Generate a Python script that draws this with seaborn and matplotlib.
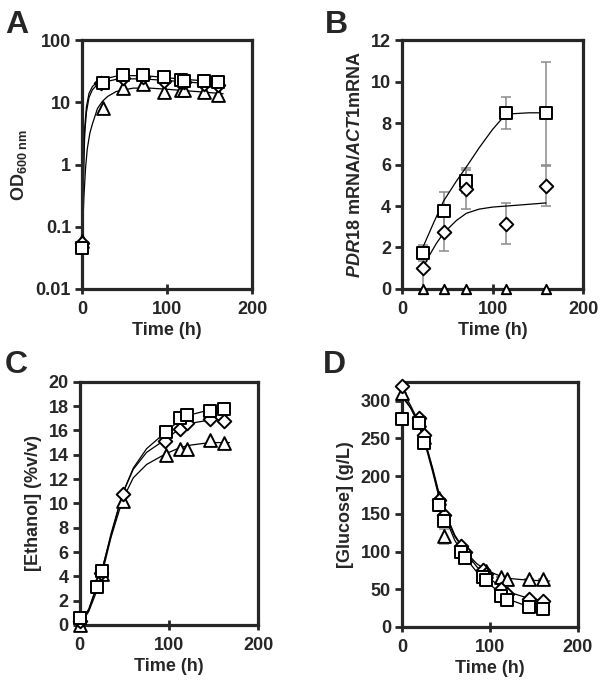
import matplotlib
matplotlib.use("Agg")
import matplotlib.pyplot as plt
import matplotlib.ticker as mticker
import seaborn as sns

# ---------------------------------------------------------------------------
# Data (square / diamond / triangle strains)
# ---------------------------------------------------------------------------
# A: growth, OD600 (log)
od_t_sq = [0, 24, 48, 72, 96, 116, 120, 144, 160]
od_sq = [0.046, 20.5, 27.4, 27.4, 25.5, 23, 22, 22, 21]
od_t_di = [0, 22, 48, 72, 96, 116, 120, 144, 160]
od_di = [0.055, 20.5, 24.5, 25.5, 22.5, 21.5, 21, 19.5, 19]
od_t_tr = [0, 24, 48, 72, 96, 116, 120, 144, 160]
od_tr = [0.06, 8.2, 16.8, 19.5, 15, 15.8, 15.8, 14.8, 13.4]
# fitted curves in A
odc_t = [0, 1, 2, 3, 5, 8, 12, 18, 24, 40, 60, 80, 100, 120, 140, 166]
odc_sq = [0.05, 0.3, 1.5, 4, 8.5, 14, 18, 21.5, 23.5, 26.5, 27, 26.5, 25, 23.5, 22.5, 21.5]
odc_di = [0.05, 0.25, 1.2, 3.2, 7, 12, 16, 19.5, 21, 23.5, 24, 23.5, 22.5, 21.5, 20.5, 19]
odc_t_tr = [0, 2, 4, 6, 9, 12, 18, 24, 30, 40, 60, 80, 100, 120, 140, 166]
odc_tr = [0.06, 0.3, 0.9, 1.8, 3.2, 4.5, 8, 10.5, 12.5, 15, 17, 17, 16.3, 15.5, 14.8, 13.8]

# B: PDR18 mRNA / ACT1 mRNA
pdr_t = [23, 46, 71, 115, 159]
pdr_sq = [1.73, 3.74, 5.23, 8.5, 8.47]
pdr_sq_err = [0.38, 0.96, 0.6, 0.78, 2.47]
pdr_di = [1.0, 2.77, 4.8, 3.15, 4.97]
pdr_di_err = [1.0, 0.96, 0.96, 1.0, 0.97]
pdr_tr = [0, 0, 0, 0, 0]
pdrc_t_sq = [23, 35, 46, 60, 72, 85, 100, 112, 120, 140, 159]
pdrc_sq = [2.0, 3.2, 4.25, 5.2, 5.95, 6.8, 7.7, 8.3, 8.45, 8.5, 8.5]
pdrc_t_di = [23, 30, 38, 46, 60, 71, 85, 100, 115, 130, 159]
pdrc_di = [1.0, 1.6, 2.2, 2.7, 3.3, 3.65, 3.85, 3.95, 4.0, 4.05, 4.15]

# C: ethanol (%v/v)
et_t_sq = [0, 19, 25, 97, 113, 120, 146, 162]
et_sq = [0.55, 3.1, 4.4, 15.9, 17.0, 17.3, 17.6, 17.8]
et_t_di = [0, 24, 48, 96, 113, 120, 146, 162]
et_di = [0.3, 4.3, 10.8, 15.1, 16.1, 16.6, 16.9, 16.8]
et_t_tr = [0, 25, 48, 97, 113, 120, 146, 162]
et_tr = [0, 4.2, 10.2, 14.0, 14.5, 14.5, 15.2, 15.0]
etc_t = [0, 10, 18, 25, 35, 48, 60, 75, 97, 113, 125, 146, 168]
etc_sq = [0.2, 1.3, 3.0, 4.6, 7.3, 10.8, 12.9, 14.5, 15.9, 16.9, 17.3, 17.7, 17.8]
etc_di = [0.1, 1.2, 2.9, 4.5, 7.5, 10.8, 12.8, 14.2, 15.3, 16.2, 16.6, 16.85, 16.9]
etc_tr = [0.0, 1.1, 2.6, 4.2, 7.2, 10.3, 12.1, 13.2, 14.1, 14.6, 14.8, 15.0, 15.0]

# D: glucose (g/L)
gl_t = [0, 19, 25, 42, 48, 67, 72, 92, 96, 113, 119, 144, 160]
gl_sq = [276, 270, 244, 162, 140, 100, 92, 66, 62, 41, 36, 27, 24]
gl_di = [319, 277, 254, 168, 148, 107, 100, 75, 70, 50, 44, 37, 35]
gl_tr = [310, 275, 252, 171, 120, 108, 95, 76, 74, 66, 64, 64, 64]
gl_tr_err = [0, 0, 0, 0, 10, 0, 0, 0, 0, 0, 0, 0, 0]
glc_t = [0, 10, 19, 25, 35, 42, 48, 60, 72, 85, 96, 113, 125, 144, 168]
glc_sq = [305, 290, 268, 248, 205, 172, 148, 115, 92, 73, 60, 44, 35, 27, 22]
glc_di = [315, 293, 272, 252, 210, 178, 155, 122, 100, 80, 68, 52, 45, 38, 34]
glc_tr = [310, 290, 270, 250, 208, 175, 150, 120, 100, 84, 75, 67, 64, 62, 61]

# ---------------------------------------------------------------------------
# Style
# ---------------------------------------------------------------------------
sns.set_style("ticks")
plt.rcParams.update({
    "font.family": ["Liberation Sans", "DejaVu Sans"],
    "font.weight": "bold",
    "font.size": 12,
    "mathtext.fontset": "custom",
    "mathtext.rm": "Liberation Sans:bold",
    "mathtext.it": "Liberation Sans:bold:italic",
    "mathtext.bf": "Liberation Sans:bold",
})

MARKERS = {"sq": ("s", 70), "di": ("D", 48), "tr": ("^", 85), "tr_small": ("^", 45)}


def _style(ax):
    for sp in ax.spines.values():
        sp.set_linewidth(2.3)
        sp.set_visible(True)
    ax.tick_params(axis="y", direction="out", length=5, width=2, labelsize=13, pad=3)
    ax.tick_params(axis="x", direction="inout", length=7, width=2, labelsize=13, pad=5)
    ax.set_xlim(0, 200)
    ax.set_xticks([0, 100, 200])
    ax.set_xlabel("Time (h)", fontsize=13, fontweight="bold", labelpad=3)


def _curve(ax, t, y):
    sns.lineplot(x=t, y=y, ax=ax, color="black", linewidth=0.9,
                 estimator=None, sort=False, zorder=2)


def _points(ax, t, y, kind, yerr=None):
    marker, size = MARKERS[kind]
    if yerr is not None:
        ax.errorbar(t, y, yerr=yerr, fmt="none", ecolor="#8a8a8a",
                    elinewidth=1.1, capsize=3.5, capthick=1.1, zorder=1)
    sns.scatterplot(x=t, y=y, ax=ax, marker=marker, s=size, color="white",
                    edgecolor="black", linewidth=1.4, zorder=3, clip_on=False)


fig = plt.figure(figsize=(6, 6.83), dpi=100)

# --- A ---------------------------------------------------------------------
axA = fig.add_axes([0.137, 0.577, 0.283, 0.364])
axA.set_yscale("log")
_curve(axA, odc_t, odc_sq)
_curve(axA, odc_t, odc_di)
_curve(axA, odc_t_tr, odc_tr)
_points(axA, od_t_tr, od_tr, "tr")
_points(axA, od_t_di, od_di, "di")
_points(axA, od_t_sq, od_sq, "sq")
axA.set_ylim(0.01, 100)
axA.yaxis.set_major_formatter(mticker.FuncFormatter(lambda v, _: f"{v:g}"))
axA.yaxis.set_minor_locator(mticker.NullLocator())
axA.set_ylabel(r"OD$_{\mathregular{600\ nm}}$", fontsize=13, fontweight="bold", labelpad=5)
_style(axA)

# --- B ---------------------------------------------------------------------
axB = fig.add_axes([0.67, 0.577, 0.302, 0.364])
_curve(axB, pdrc_t_sq, pdrc_sq)
_curve(axB, pdrc_t_di, pdrc_di)
_points(axB, pdr_t, pdr_sq, "sq", yerr=pdr_sq_err)
_points(axB, pdr_t, pdr_di, "di", yerr=pdr_di_err)
_points(axB, pdr_t, pdr_tr, "tr_small")
axB.set_ylim(0, 12)
axB.set_yticks(range(0, 13, 2))
axB.set_ylabel(r"$\mathit{PDR18}$ mRNA/$\mathit{ACT1}$mRNA", fontsize=13,
               fontweight="bold", labelpad=5)
_style(axB)

# --- C ---------------------------------------------------------------------
axC = fig.add_axes([0.133, 0.085, 0.297, 0.356])
_curve(axC, etc_t, etc_sq)
_curve(axC, etc_t, etc_di)
_curve(axC, etc_t, etc_tr)
_points(axC, et_t_tr, et_tr, "tr")
_points(axC, et_t_di, et_di, "di")
_points(axC, et_t_sq, et_sq, "sq")
axC.set_ylim(0, 20)
axC.set_yticks(range(0, 21, 2))
axC.set_ylabel("[Ethanol] (%v/v)", fontsize=13, fontweight="bold", labelpad=5)
_style(axC)

# --- D ---------------------------------------------------------------------
axD = fig.add_axes([0.67, 0.082, 0.293, 0.359])
_curve(axD, glc_t, glc_sq)
_curve(axD, glc_t, glc_di)
_curve(axD, glc_t, glc_tr)
_points(axD, gl_t, gl_tr, "tr", yerr=gl_tr_err)
_points(axD, gl_t, gl_di, "di")
_points(axD, gl_t, gl_sq, "sq")
axD.set_ylim(0, 325)
axD.set_yticks(range(0, 301, 50))
axD.set_ylabel("[Glucose] (g/L)", fontsize=13, fontweight="bold", labelpad=5)
_style(axD)

# panel letters
for letter, x, y in [("A", 0.008, 0.985), ("B", 0.542, 0.985),
                     ("C", 0.008, 0.487), ("D", 0.538, 0.487)]:
    fig.text(x, y, letter, fontsize=23, fontweight="bold", va="top", ha="left")

fig.savefig("out.png", dpi=100, facecolor="white")
